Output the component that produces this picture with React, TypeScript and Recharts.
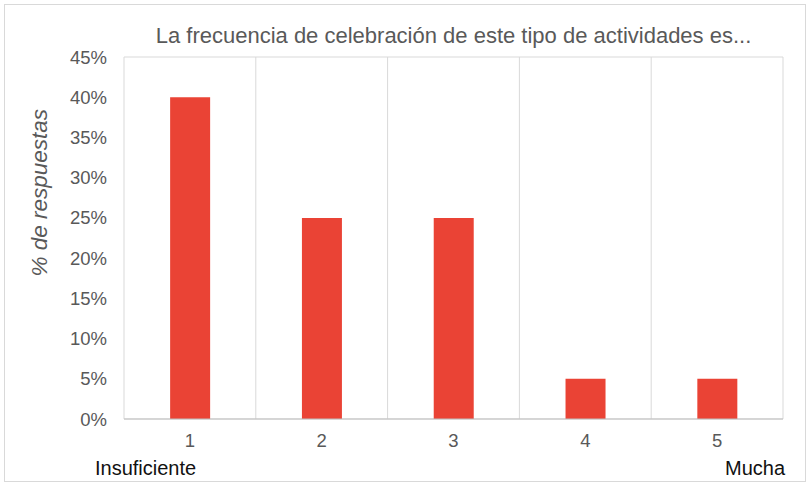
import React from 'react';
import { BarChart, Bar, XAxis, YAxis, CartesianGrid, Label } from 'recharts';

// Chart data
const categories = ['1', '2', '3', '4', '5'];
const percentages = [40, 25, 25, 5, 5];
const yTicks = [0, 5, 10, 15, 20, 25, 30, 35, 40, 45];

const title = 'La frecuencia de celebración de este tipo de actividades es...';
const yLabel = '% de respuestas';
const lowLabel = 'Insuficiente';
const highLabel = 'Mucha';

const data = categories.map((c, i) => ({ name: c, value: percentages[i] }));

const FONT = '"Liberation Sans", Arial, sans-serif';
const TEXT = '#595959';
const GRID = '#d9d9d9';
const BAR = '#ea4335';

const W = 810;
const H = 486;

// grid lines sit on category boundaries, plus the plot frame
const boundaryLines = ({ xAxis, offset }: any) => {
  const scale = xAxis && xAxis.scale;
  if (typeof scale === 'function' && typeof scale.bandwidth === 'function') {
    const pts = categories.map((c) => scale(c));
    return [...pts, pts[pts.length - 1] + scale.bandwidth()];
  }
  const step = offset.width / categories.length;
  return categories.map((_, i) => offset.left + i * step).concat([offset.left + offset.width]);
};

export default function App() {
  return (
    <div style={{ position: 'absolute', left: 0, top: 0, width: W, height: H, background: '#fff', fontFamily: FONT }}>
      <div
        style={{
          position: 'absolute',
          left: 4,
          top: 4,
          width: 800,
          height: 476,
          border: `1px solid ${GRID}`,
        }}
      />
      <BarChart
        width={W}
        height={H}
        data={data}
        margin={{ top: 57, right: 27, left: 0, bottom: 0 }}
        barCategoryGap="35%"
        style={{ position: 'absolute', left: 0, top: 0 }}
      >
        <CartesianGrid
          stroke={GRID}
          horizontalCoordinatesGenerator={({ offset }: any) => [offset.top, offset.top + offset.height]}
          verticalCoordinatesGenerator={boundaryLines}
        />
        <XAxis
          dataKey="name"
          height={67}
          axisLine={{ stroke: '#bfbfbf' }}
          tickLine={false}
          tickSize={0}
          tickMargin={15}
          tick={{ fill: TEXT, fontSize: 18.5, fontFamily: FONT }}
        >
          <Label
            content={({ viewBox }: any) => {
              const vb = viewBox || { x: 124, y: 419, width: 659, height: 67 };
              return (
                <g fontFamily={FONT} fontSize={20} fill="#111">
                  <text x={vb.x - 29} y={vb.y + 56} textAnchor="start">
                    {lowLabel}
                  </text>
                  <text x={vb.x + vb.width + 2} y={vb.y + 56} textAnchor="end">
                    {highLabel}
                  </text>
                </g>
              );
            }}
          />
        </XAxis>
        <YAxis
          width={124}
          domain={[0, 45]}
          ticks={yTicks}
          interval={0}
          axisLine={false}
          tickLine={false}
          tickSize={0}
          tickMargin={17}
          tickFormatter={(v: number) => `${v}%`}
          tick={{ fill: TEXT, fontSize: 18.5, fontFamily: FONT }}
        >
          <Label
            content={({ viewBox }: any) => {
              const vb = viewBox || { x: 0, y: 57, width: 124, height: 362 };
              const cx = vb.x + 39;
              const cy = vb.y + vb.height * 0.375;
              return (
                <text
                  x={cx}
                  y={cy}
                  transform={`rotate(-90 ${cx} ${cy})`}
                  textAnchor="middle"
                  dominantBaseline="central"
                  fontFamily={FONT}
                  fontSize={22.5}
                  fontStyle="italic"
                  fill={TEXT}
                >
                  {yLabel}
                </text>
              );
            }}
          />
        </YAxis>
        <Bar dataKey="value" fill={BAR} isAnimationActive={false} />
      </BarChart>
      <div
        style={{
          position: 'absolute',
          left: 124,
          width: 659,
          top: 22,
          textAlign: 'center',
          fontSize: 22,
          color: TEXT,
          whiteSpace: 'nowrap',
          lineHeight: '28px',
        }}
      >
        {title}
      </div>
    </div>
  );
}
